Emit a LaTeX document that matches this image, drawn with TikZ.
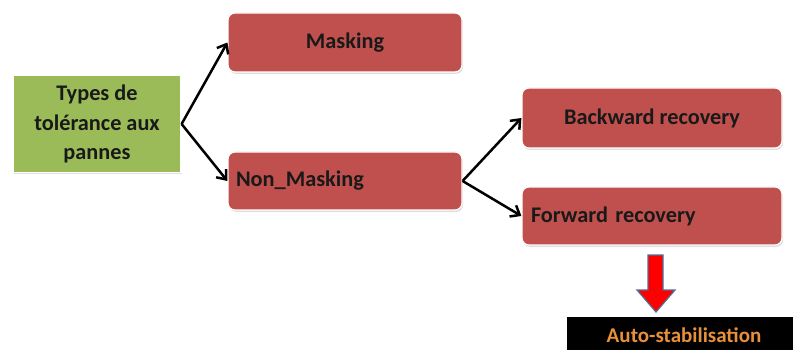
\documentclass[tikz,border=0pt]{standalone}
\usepackage{fontspec}
\setmainfont{Carlito}
\usetikzlibrary{arrows.meta,shadows}
\definecolor{boxred}{HTML}{C0504D}
\definecolor{boxgreen}{HTML}{9BBB59}
\definecolor{autoorange}{HTML}{E8903A}
\definecolor{arrowblue}{HTML}{4F6E9A}
\tikzset{
  base/.style={draw=white, line width=1.2pt, font=\fontsize{22.3}{29.5}\selectfont\bfseries, text=black!90,
    drop shadow={shadow xshift=1pt, shadow yshift=-2pt, opacity=0.25}},
  redbox/.style={base, fill=boxred, rounded corners=7pt},
  greenbox/.style={base, fill=boxgreen},
  conn/.style={line width=2.5pt, -{Straight Barb[length=8pt,width=13pt,line width=2.5pt]}},
}
\begin{document}
\begin{tikzpicture}[x=1pt,y=-1pt]
\useasboundingbox (0,0) rectangle (793,350);
\node[greenbox, minimum width=168pt, minimum height=97pt, inner sep=2pt, align=center] (types) at (97,124) {Types de\\tolérance aux\\pannes};
\node[redbox, minimum width=234pt, minimum height=59pt] (mask) at (345,42.5) {Masking};
\node[redbox, minimum width=234pt, minimum height=58pt, text width=218pt, inner sep=8pt, align=left] (nonmask) at (345,181) {Non\_Masking};
\node[redbox, minimum width=260pt, minimum height=60pt] (back) at (652,118) {Backward recovery};
\node[redbox, minimum width=260pt, minimum height=58pt, text width=242pt, inner sep=9pt, align=left] (fwd) at (652,216) {Forward recovery};
\node[fill=black, minimum width=234pt, minimum height=36pt, inner sep=0pt, text=autoorange, font=\fontsize{21}{24}\selectfont\bfseries] (auto) at (684,335) {Auto-stabilisation};
\draw[conn] (types.east) -- (mask.west);
\draw[conn] (types.east) -- (nonmask.west);
\draw[conn] (nonmask.east) -- (back.west);
\draw[conn] (nonmask.east) -- (fwd.west);
\draw[fill=red, draw=arrowblue, line width=1.2pt, line join=miter]
  (648,255) -- (663,255) -- (663,290) -- (675,290) -- (656,312) -- (637,290) -- (648,290) -- cycle;
\end{tikzpicture}
\end{document}
